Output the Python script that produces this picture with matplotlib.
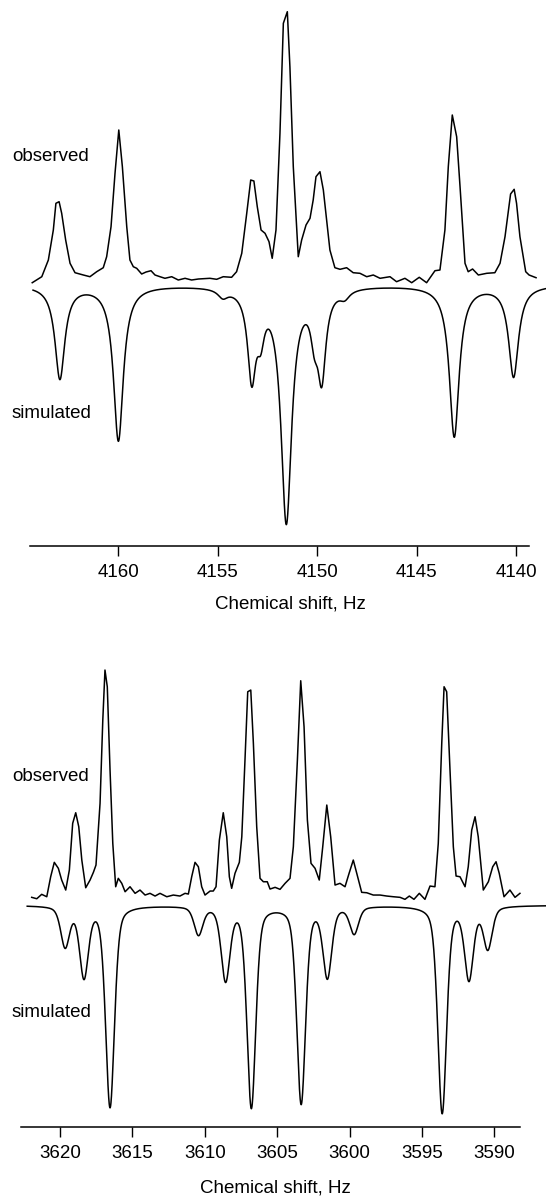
import numpy as np
import matplotlib.pyplot as plt

plt.rcParams['font.family'] = ['Liberation Sans', 'DejaVu Sans']

# ---- upper spectrum (4140-4165 Hz) ----
# observed trace
obs1_hz = [4164.33, 4163.85, 4163.52, 4163.27, 4163.14, 4162.98, 4162.85, 4162.65,
           4162.43, 4162.18, 4161.76, 4161.43, 4161.09, 4160.76, 4160.59, 4160.37,
           4160.17, 4159.98, 4159.80, 4159.58, 4159.42, 4159.25, 4159.08, 4158.83,
           4158.61, 4158.36, 4158.16, 4157.91, 4157.66, 4157.32, 4156.99, 4156.65,
           4156.32, 4155.98, 4155.40, 4155.06, 4154.73, 4154.31, 4154.06, 4153.80,
           4153.55, 4153.35, 4153.19, 4153.02, 4152.83, 4152.63, 4152.43, 4152.27,
           4152.08, 4151.88, 4151.71, 4151.51, 4151.38, 4151.21, 4150.96, 4150.79,
           4150.57, 4150.37, 4150.21, 4150.07, 4149.87, 4149.70, 4149.37, 4149.12,
           4148.86, 4148.53, 4148.20, 4147.86, 4147.52, 4147.19, 4146.85, 4146.35,
           4146.02, 4145.60, 4145.26, 4144.88, 4144.51, 4144.09, 4143.84, 4143.59,
           4143.42, 4143.22, 4143.00, 4142.83, 4142.58, 4142.42, 4142.20, 4141.91,
           4141.49, 4141.08, 4140.82, 4140.57, 4140.29, 4140.11, 4139.99, 4139.82,
           4139.53, 4139.36, 4139.01]
obs1_int = [-4.7, 1.3, 18, 48, 74.7, 76.3, 64.7, 38,
            14.7, 5.3, 3, 1.3, 6.3, 10.3, 21.3, 51.3,
            104.7, 148, 111.3, 51.3, 18, 11.3, 9.7, 4,
            6, 7.3, 3, 1.3, -0.3, 1.3, -2, -0.3,
            -2, -1, -0.3, -1.3, 1.3, 0.7, 6.3, 24.7,
            64.7, 98, 97, 71.3, 48, 44.7, 36.3, 19.7,
            48, 144.7, 254.7, 266.3, 211.3, 111.3, 21.3, 38,
            53, 59.7, 78, 101.3, 106.3, 88, 28, 10.3,
            8.7, 10.3, 5.3, 4.7, 1.3, 3, -0.3, 1.3,
            -3.7, -0.3, -4.7, 0.7, -4.7, 7.3, 8, 48,
            111.3, 163, 141.3, 91.3, 14.7, 6.3, 9, 3,
            4.7, 5.3, 14.7, 41.3, 84, 88.7, 74.7, 41.3,
            6.3, 3, 0.3]
# simulated line list: position (Hz), intensity, line width (Hz)
sim1_pos = [4162.94, 4160.00, 4154.75, 4153.30, 4152.85, 4151.56,
            4150.15, 4149.78, 4148.63, 4143.12, 4140.14]
sim1_amp = [93, 155, 8, 86, 35, 234, 35, 84, 8, 151, 91]
sim1_wid = [0.6, 0.6, 0.6, 0.5, 0.45, 0.65, 0.45, 0.5, 0.6, 0.6, 0.6]
ticks1 = [4160, 4155, 4150, 4145, 4140]

# ---- lower spectrum (3588-3623 Hz) ----
obs2_hz = [3621.95, 3621.60, 3621.26, 3620.91, 3620.64, 3620.39, 3620.11, 3619.88,
           3619.60, 3619.35, 3619.12, 3618.91, 3618.70, 3618.49, 3618.22, 3617.92,
           3617.69, 3617.51, 3617.23, 3617.04, 3616.89, 3616.73, 3616.54, 3616.35,
           3616.15, 3615.97, 3615.73, 3615.50, 3615.16, 3614.81, 3614.47, 3614.12,
           3613.78, 3613.43, 3613.09, 3612.62, 3612.17, 3611.71, 3611.36, 3611.13,
           3610.90, 3610.67, 3610.44, 3610.21, 3609.98, 3609.63, 3609.41, 3609.22,
           3608.99, 3608.72, 3608.48, 3608.30, 3608.14, 3607.91, 3607.61, 3607.44,
           3607.22, 3607.03, 3606.82, 3606.64, 3606.41, 3606.18, 3605.95, 3605.68,
           3605.49, 3605.14, 3604.80, 3604.45, 3604.11, 3603.88, 3603.60, 3603.37,
           3603.14, 3602.91, 3602.66, 3602.38, 3602.09, 3601.85, 3601.57, 3601.30,
           3601.00, 3600.66, 3600.31, 3600.03, 3599.74, 3599.50, 3599.16, 3598.81,
           3598.36, 3597.89, 3597.43, 3596.97, 3596.51, 3596.17, 3595.87, 3595.55,
           3595.18, 3594.79, 3594.44, 3594.10, 3593.87, 3593.63, 3593.47, 3593.29,
           3593.06, 3592.83, 3592.64, 3592.37, 3592.02, 3591.80, 3591.56, 3591.33,
           3591.11, 3590.76, 3590.41, 3590.11, 3589.88, 3589.66, 3589.33, 3588.92,
           3588.57, 3588.23]
obs2_int = [-2.3, -3.7, 0.7, -1.7, 18.3, 32.7, 26.7, 15,
            5, 25, 71.7, 82.3, 68.3, 35, 7.3, 15,
            22.7, 30, 91.7, 175, 225, 208.3, 125, 51.7,
            8.3, 16.7, 11.7, 3.3, 8.3, 1.7, 5, 0,
            1.7, -1, 1.7, -1.7, 0, -1, 1.7, 1,
            18.3, 32.7, 28.3, 8.3, 0, 4, 4, 8.3,
            55, 82.3, 58.3, 18.3, 6.7, 21.7, 32.7, 58.3,
            135, 203.3, 205, 151.7, 68.3, 16.7, 13.3, 13.3,
            6, 7.7, 5.7, 11.7, 16.7, 48.3, 135, 214.3,
            168.3, 75, 31.7, 26.7, 15, 48.3, 90, 58.3,
            10, 11.7, 8.3, 21.7, 35, 21.7, 2.7, 2.3,
            0, 0, -1, -1.7, -2.3, -4.3, -1, -4.3,
            1.7, -4.3, 9, 8.3, 51.7, 151.7, 208.3, 203.3,
            125, 48.3, 19, 18.3, 8.3, 28.3, 65, 78.3,
            58.3, 5, 13.3, 28.3, 33.3, 21.7, -1.7, 5,
            -2.3, 1.7]
sim2_pos = [3619.64, 3618.34, 3616.54, 3610.43, 3608.56, 3606.78,
            3603.34, 3601.53, 3599.68, 3593.60, 3591.75, 3590.45]
sim2_amp = [40, 70, 201, 28, 73, 201, 197, 70, 27, 207, 72, 42]
sim2_wid = [0.72, 0.72, 0.72, 0.72, 0.72, 0.72, 0.72, 0.72, 0.72, 0.72, 0.72, 0.72]
ticks2 = [3620, 3615, 3610, 3605, 3600, 3595, 3590]


def lineshape(f, pos, amp, wid, eta=1.0):
    # pseudo-Voigt: eta * Lorentzian + (1 - eta) * Gaussian, same FWHM
    out = np.zeros_like(f)
    for p, a, w in zip(pos, amp, wid):
        hw = w / 2.0
        lor = hw**2 / ((f - p)**2 + hw**2)
        gau = np.exp(-np.log(2) * ((f - p) / hw)**2)
        out += a * (eta * lor + (1 - eta) * gau)
    return out


fig = plt.figure(figsize=(5.46, 11.97), dpi=100)
ax1 = fig.add_axes([0, 0.5441, 1, 0.4559])
ax2 = fig.add_axes([0, 0.0587, 1, 0.4233])

fs = 13.5
lw = 1.1


def setup(ax, xlim, bounds, ticks, ylim):
    ax.set_xlim(*xlim)
    ax.set_ylim(*ylim)
    for s in ['top', 'right', 'left']:
        ax.spines[s].set_visible(False)
    ax.spines['bottom'].set_bounds(*bounds)
    ax.spines['bottom'].set_linewidth(1.1)
    ax.set_yticks([])
    ax.set_xticks(ticks)
    ax.tick_params(axis='x', direction='out', length=7.5, width=1.0,
                   labelsize=fs, pad=6)
    ax.patch.set_visible(False)


# upper
setup(ax1, (4165.95, 4138.51), (4164.46, 4139.35), ticks1, (0, 545.7))
ax1.plot(obs1_hz, 267.7 + np.array(obs1_int), color='black', lw=lw)
f1 = np.linspace(4164.29, 4138.51, 3000)
ax1.plot(f1, 261.0 - lineshape(f1, sim1_pos, sim1_amp, sim1_wid),
         color='black', lw=lw)
ax1.text(0.022, 0.714, 'observed', transform=ax1.transAxes, fontsize=fs,
         ha='left', va='center')
ax1.text(0.022, 0.243, 'simulated', transform=ax1.transAxes, fontsize=fs,
         ha='left', va='center')
ax1.set_xlabel('Chemical shift, Hz', fontsize=fs)
ax1.xaxis.set_label_coords(0.531, -58.3 / 545.7)
ax1.xaxis.label.set_va('center')

# lower
setup(ax2, (3624.14, 3586.43), (3622.69, 3588.2), ticks2, (0, 506.7))
ax2.plot(obs2_hz, 231.7 + np.array(obs2_int), color='black', lw=lw)
f2 = np.linspace(3622.26, 3586.43, 3000)
ax2.plot(f2, 221.5 - lineshape(f2, sim2_pos, sim2_amp, sim2_wid, eta=0.4),
         color='black', lw=lw)
ax2.text(0.022, 0.692, 'observed', transform=ax2.transAxes, fontsize=fs,
         ha='left', va='center')
ax2.text(0.022, 0.225, 'simulated', transform=ax2.transAxes, fontsize=fs,
         ha='left', va='center')
ax2.set_xlabel('Chemical shift, Hz', fontsize=fs)
ax2.xaxis.set_label_coords(0.505, -60.8 / 506.7)
ax2.xaxis.label.set_va('center')

fig.savefig('out.png', dpi=100)
